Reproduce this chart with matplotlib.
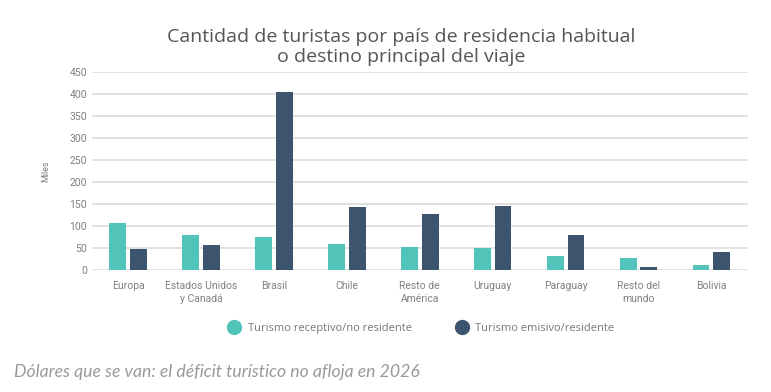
import numpy as np
import matplotlib.pyplot as plt
from matplotlib.lines import Line2D

categorias = ["Europa", "Estados Unidos\ny Canadá", "Brasil", "Chile", "Resto de\nAmérica",
              "Uruguay", "Paraguay", "Resto del\nmundo", "Bolivia"]
receptivo = [107, 79, 75, 60, 52, 51, 32, 27, 12]
emisivo = [47, 57, 405, 143, 127, 146, 79, 8, 41]
yticks = [0, 50, 100, 150, 200, 250, 300, 350, 400, 450]

c_rec = "#52c3b8"
c_emi = "#3c546e"

fig = plt.figure(figsize=(7.71, 3.92), dpi=100)
ax = fig.add_axes([0.119, 0.311, 0.851, 0.506])

x = np.arange(len(categorias))
w = 0.23
ax.bar(x - 0.142, receptivo, width=w, color=c_rec, zorder=3)
ax.bar(x + 0.142, emisivo, width=w, color=c_emi, zorder=3)

ax.set_xlim(-0.5, len(categorias) - 0.5)
ax.set_ylim(0, 450)
ax.set_yticks(yticks)
ax.yaxis.grid(True, color="#dcdcdc", linewidth=1.2, zorder=0)
for s in ax.spines.values():
    s.set_visible(False)
ax.tick_params(length=0, labelsize=7.5, labelcolor="#808080")
ax.tick_params(axis="x", pad=8)
ax.set_xticks(x)
ax.set_xticklabels(categorias, fontfamily="Roboto", linespacing=1.3)
for t in ax.get_yticklabels():
    t.set_fontfamily("Roboto")
ax.set_ylabel("Miles", fontsize=6.5, color="#808080", fontfamily="Roboto", labelpad=14)

fig.text(0.52, 0.88, "Cantidad de turistas por país de residencia habitual\no destino principal del viaje",
         ha="center", va="center", fontsize=14, color="#555555", fontfamily="Open Sans",
         linespacing=1.2)

handles = [Line2D([], [], marker="o", linestyle="", markersize=10, color=c_rec),
           Line2D([], [], marker="o", linestyle="", markersize=10, color=c_emi)]
fig.legend(handles, ["Turismo receptivo/no residente", "Turismo emisivo/residente"],
           loc="center", bbox_to_anchor=(0.543, 0.163), ncol=2, frameon=False,
           labelcolor="#777777", handletextpad=0.2, columnspacing=3.5,
           prop={"family": "Open Sans", "size": 8})

fig.text(0.018, 0.052, "Dólares que se van: el déficit turístico no afloja en 2026",
         fontsize=12.7, style="italic", color="#999999", fontfamily="Lato", va="center")

fig.savefig("out.png", dpi=100, facecolor="white")
